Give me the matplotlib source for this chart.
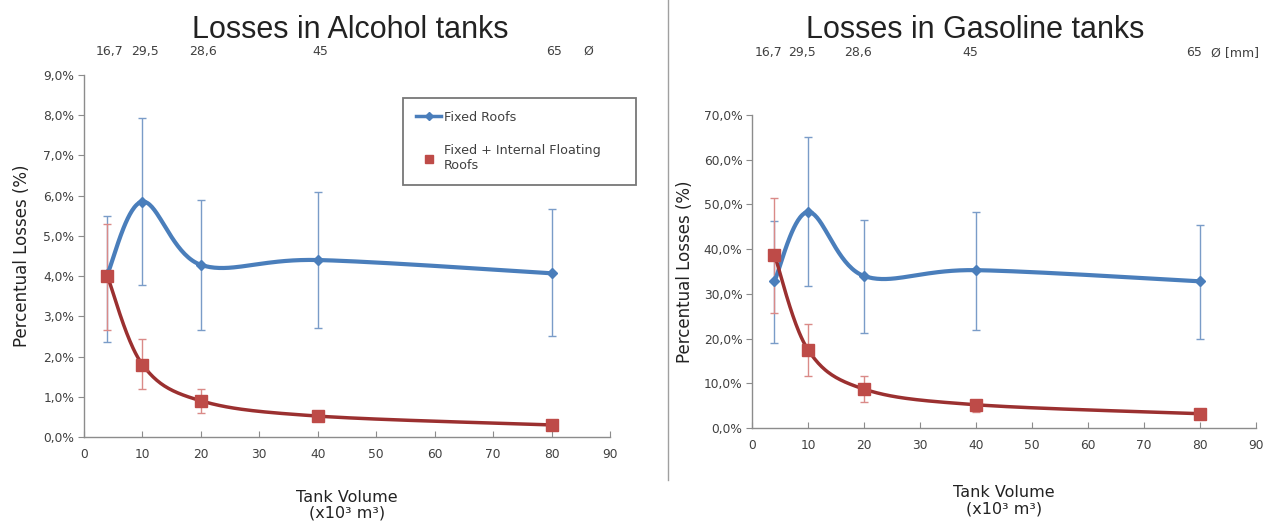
import numpy as np
import matplotlib
matplotlib.use("Agg")
import matplotlib.pyplot as plt
from matplotlib.lines import Line2D
from matplotlib.ticker import FuncFormatter

# ---------------- data ----------------
volume = [4, 10, 20, 40, 80]
diam_labels = ["16,7", "29,5", "28,6", "45", "65"]

alc_fixed = [4.05, 5.85, 4.28, 4.40, 4.07]
alc_fixed_lo = [2.35, 3.78, 2.67, 2.70, 2.52]
alc_fixed_hi = [5.50, 7.93, 5.90, 6.10, 5.67]
alc_float = [4.00, 1.80, 0.90, 0.52, 0.30]
alc_float_lo = [2.67, 1.20, 0.60, 0.42, 0.26]
alc_float_hi = [5.30, 2.43, 1.20, 0.62, 0.35]

gas_fixed = [32.8, 48.3, 34.0, 35.3, 32.8]
gas_fixed_lo = [19.0, 31.7, 21.3, 22.0, 20.0]
gas_fixed_hi = [46.3, 65.0, 46.6, 48.2, 45.3]
gas_float = [38.8, 17.5, 8.7, 5.2, 3.2]
gas_float_lo = [25.8, 11.6, 5.8, 3.5, 2.5]
gas_float_hi = [51.5, 23.3, 11.6, 6.2, 3.9]

BLUE = "#4A7EBB"
BLUE_ERR = "#7A9CC8"
RED = "#BE4B48"
RED_LINE = "#9B3030"
RED_ERR = "#DA8A88"
AXC = "#8C8C8C"
TXT = "#404040"

W, H = 1276, 529
fig = plt.figure(figsize=(W / 100, H / 100), dpi=100)

SANS = ["Liberation Sans", "DejaVu Sans"]


def smooth(ax, xs, ys, n=40):
    # Excel-style smoothing (Bezier, tension 1/6) in display space
    T = ax.transData
    P = T.transform(np.column_stack([xs, ys]))
    P = np.vstack([P[0], P, P[-1]])
    out = []
    for i in range(1, len(P) - 2):
        p0, p1, p2, p3 = P[i - 1], P[i], P[i + 1], P[i + 2]
        c1 = p1 + (p2 - p0) / 6.0
        c2 = p2 - (p3 - p1) / 6.0
        t = np.linspace(0, 1, n)[:, None]
        seg = ((1 - t) ** 3) * p1 + 3 * ((1 - t) ** 2) * t * c1 + 3 * (1 - t) * t ** 2 * c2 + t ** 3 * p2
        out.append(seg if i == 1 else seg[1:])
    out = np.vstack(out)
    D = T.inverted().transform(out)
    return D[:, 0], D[:, 1]


def panel(rect, ymax, ystep, fixed, flo, fhi, flt, llo, lhi, title, title_xy,
          diam_y, diam_off, diam_last, ylab_x, xlab_pad):
    ax = fig.add_axes(rect)
    ax.set_xlim(0, 90)
    ax.set_ylim(0, ymax)
    ax.set_xticks(np.arange(0, 91, 10))
    ax.set_yticks(np.arange(0, ymax + 1e-9, ystep))
    ax.yaxis.set_major_formatter(FuncFormatter(lambda v, p: f"{v:.1f}%".replace(".", ",")))
    for s in ["top", "right"]:
        ax.spines[s].set_visible(False)
    for s in ["left", "bottom"]:
        ax.spines[s].set_color(AXC)
        ax.spines[s].set_linewidth(1.0)
    ax.tick_params(axis="x", direction="in", length=4, color=AXC, labelsize=8.8, labelcolor=TXT, pad=8)
    ax.tick_params(axis="y", direction="out", length=4, color=AXC, labelsize=8.8, labelcolor=TXT, pad=3)

    ax.errorbar(volume, fixed, yerr=[np.array(fixed) - np.array(flo), np.array(fhi) - np.array(fixed)],
                fmt="none", ecolor=BLUE_ERR, elinewidth=1.0, capsize=3, capthick=1.0, zorder=2)
    ax.errorbar(volume, flt, yerr=[np.array(flt) - np.array(llo), np.array(lhi) - np.array(flt)],
                fmt="none", ecolor=RED_ERR, elinewidth=1.0, capsize=3, capthick=1.0, zorder=2)

    sx, sy = smooth(ax, volume, fixed)
    ax.plot(sx, sy, color=BLUE, lw=3.0, zorder=3, solid_capstyle="round")
    ax.plot(volume, fixed, ls="none", marker="D", ms=5, color=BLUE, mec=BLUE, zorder=4)
    rx, ry = smooth(ax, volume, flt)
    ax.plot(rx, ry, color=RED_LINE, lw=2.5, zorder=3)
    ax.plot(volume, flt, ls="none", marker="s", ms=8, color=RED, mec=RED, zorder=4)

    tr = ax.get_xaxis_transform()
    for xv, lab in zip(volume, diam_labels):
        ax.text(xv + diam_off, diam_y, lab, transform=tr, ha="center", va="center",
                fontsize=9, color=TXT)
    ax.text(diam_last[0], diam_y, diam_last[1], transform=tr, ha="left", va="center",
            fontsize=9, color=TXT)

    fig.text(title_xy[0] / W, 1 - title_xy[1] / H, title, ha="center", va="center",
             fontsize=22, family=SANS, color="#222222")
    ax.set_ylabel("Percentual Losses (%)", fontsize=12, family=["DejaVu Sans"], color="#222222")
    ax.yaxis.set_label_coords(ylab_x, 0.5)
    ax.set_xlabel("Tank Volume\n(x10³ m³)", fontsize=11.5, family=["DejaVu Sans"], color="#222222",
                  labelpad=xlab_pad, linespacing=1.05)
    return ax


ax1 = panel([84 / W, 1 - 437 / H, (610 - 84) / W, (437 - 75) / H], 9.0, 1.0,
            alc_fixed, alc_fixed_lo, alc_fixed_hi, alc_float, alc_float_lo, alc_float_hi,
            "Losses in Alcohol tanks", (350, 30), 1.065, 0.4, (85.5, "Ø"), -0.10, 21)
ax2 = panel([752 / W, 1 - 428 / H, (1256 - 752) / W, (428 - 115) / H], 70.0, 10.0,
            gas_fixed, gas_fixed_lo, gas_fixed_hi, gas_float, gas_float_lo, gas_float_hi,
            "Losses in Gasoline tanks", (975, 30), 1.20, -1.0, (82.0, "Ø [mm]"), -0.115, 24)

fig.add_artist(Line2D([668 / W, 668 / W], [1 - 480 / H, 1.0], color="#A0A0A0", lw=1.0))

handles = [Line2D([], [], color=BLUE, lw=2.5, marker="D", ms=4),
           Line2D([], [], ls="none", color=RED, marker="s", ms=6)]
leg = fig.legend(handles, ["Fixed Roofs", "Fixed + Internal Floating\nRoofs"],
                 loc="upper left", bbox_to_anchor=(403 / W, 1 - 190 / H, 233 / W, 92 / H),
                 mode="expand",
                 frameon=True, fancybox=False, edgecolor="#555555",
                 prop={"family": "DejaVu Sans", "size": 9.2},
                 handlelength=2.0, handletextpad=0.2,
                 labelspacing=1.6, borderpad=1.0, borderaxespad=0)
leg.get_frame().set_linewidth(1.3)
for t in leg.get_texts():
    t.set_color(TXT)

fig.savefig("out.png", dpi=100)
